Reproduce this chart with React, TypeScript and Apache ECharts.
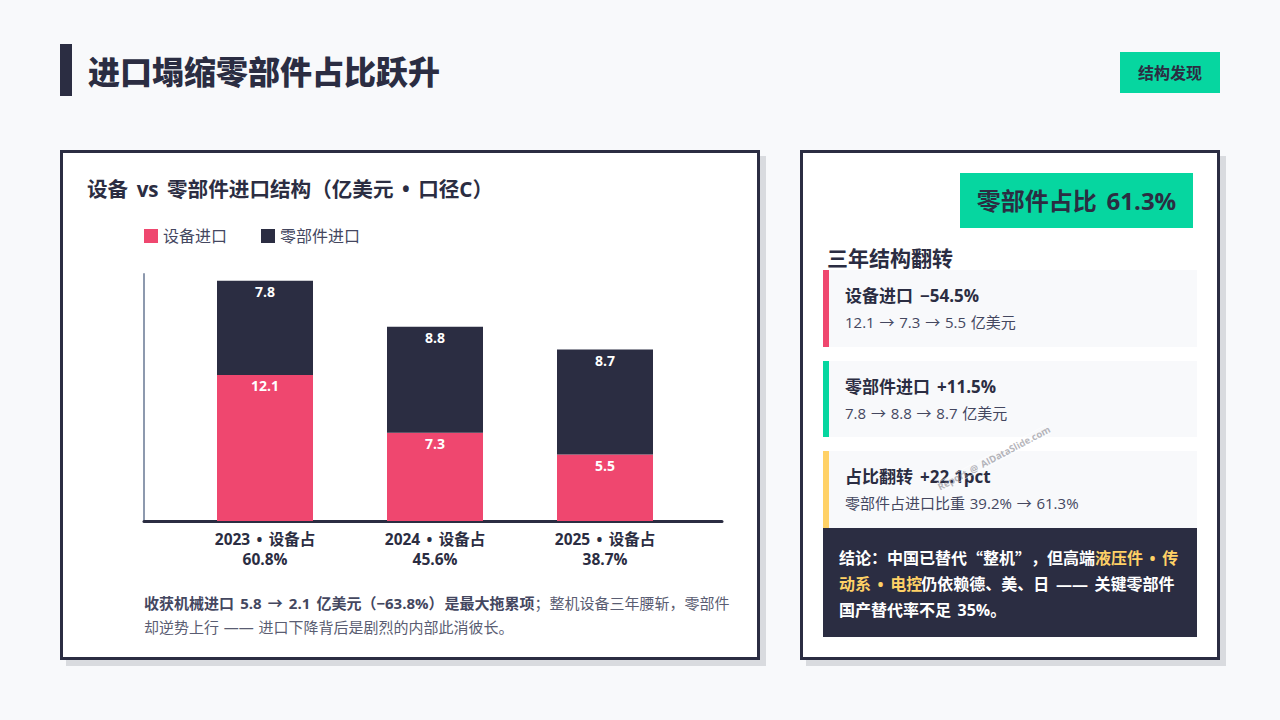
import React, { useEffect, useRef } from "react";
import * as echarts from "echarts";

const years = [2023, 2024, 2025];
const equipmentValues = [12.1, 7.3, 5.5];
const partsValues = [7.8, 8.8, 8.7];
const equipmentShare = ["60.8%", "45.6%", "38.7%"];

const NAVY = "#2B2D42";
const PINK = "#EF476F";
const GREEN = "#06D6A0";
const YELLOW = "#FFD166";
const BG = "#F8F9FB";
const LATIN = '"Open Sans", "Noto Sans CJK SC", sans-serif';
const CJK = '"Noto Sans CJK SC", sans-serif';

const txt = (x: number, y: number, text: string, fontSize: number, fontWeight: number, fill: string, align: any = "left") => ({
  type: "text",
  x,
  y,
  silent: true,
  style: { text, fontSize, fontWeight, fill, fontFamily: LATIN, align, verticalAlign: "middle" },
});

const rect = (x: number, y: number, width: number, height: number, fill: string, extra: any = {}) => ({
  type: "rect",
  silent: true,
  shape: { x, y, width, height },
  style: { fill, ...extra },
});

const richLine = (x: number, y: number, text: string, rich: any) => ({
  type: "text",
  x,
  y,
  silent: true,
  style: { text, rich, fontFamily: LATIN, verticalAlign: "middle", align: "left" },
});

const cards = [
  { top: 270, h: 77, color: PINK, title: "设备进口 −54.5%", sub: "12.1 → 7.3 → 5.5 亿美元" },
  { top: 361, h: 76, color: GREEN, title: "零部件进口 +11.5%", sub: "7.8 → 8.8 → 8.7 亿美元" },
  { top: 451, h: 77, color: YELLOW, title: "占比翻转 +22.1pct", sub: "零部件占进口比重 39.2% → 61.3%" },
];

export default function App() {
  const ref = useRef<HTMLDivElement>(null);
  useEffect(() => {
    document.body.style.margin = "0";
    document.body.style.background = BG;
    const css = document.createElement("style");
    css.textContent =
      'svg text{word-spacing:.06em} svg text[style*="700"],svg text[style*="900"],svg text[style*="bold"]{word-spacing:.15em}';
    document.head.appendChild(css);
    const chart = echarts.init(ref.current!, undefined, { renderer: "svg" });
    const token = (fill: string, fontFamily = LATIN, extra: any = {}) => ({ fontSize: 16, fontWeight: 700, fill, fontFamily, ...extra });
    const concl = {
      w: token("#FFFFFF"),
      q: token("#FFFFFF", CJK),
      y: token(YELLOW),
      yp: token(YELLOW, LATIN, { padding: [0, 4, 0, 0] }),
    };
    const noteRich = {
      b: { fontFamily: LATIN, fontSize: 15, fontWeight: 700, fill: "#44475F", padding: [0, 10, 0, 0] },
      c: { fontFamily: LATIN, fontSize: 15, fontWeight: 700, fill: "#44475F" },
      n: { fontFamily: LATIN, fontSize: 15, fontWeight: 400, fill: "#5A5D72" },
    };
    const barLabel = {
      show: true,
      position: "insideTop",
      distance: 4,
      color: "#fff",
      fontSize: 14,
      fontWeight: 700,
      fontFamily: LATIN,
      formatter: (p: any) => String(p.value[0]),
    };
    chart.setOption({
      animation: false,
      backgroundColor: BG,
      textStyle: { fontFamily: LATIN },
      grid: { left: 144, top: 274, width: 578, height: 247 },
      legend: {
        left: 139,
        top: 223,
        itemWidth: 14,
        itemHeight: 14,
        itemGap: 34,
        icon: "rect",
        textStyle: { fontSize: 16, color: "#44475F", fontFamily: LATIN },
        data: ["设备进口", "零部件进口"],
      },
      xAxis: {
        type: "value",
        min: 2023 - 121 / 170,
        max: 2025 + 117 / 170,
        splitLine: { show: false },
        axisTick: { show: false },
        axisLine: { show: true, onZero: false, lineStyle: { color: NAVY, width: 3 } },
        axisLabel: {
          customValues: years,
          margin: 8,
          color: NAVY,
          fontSize: 15.5,
          fontWeight: 700,
          lineHeight: 20,
          fontFamily: LATIN,
          formatter: (v: number) => `${v} • 设备占\n${equipmentShare[years.indexOf(v)]}`,
        },
      },
      yAxis: {
        type: "value",
        min: 0,
        max: 20.46,
        splitLine: { show: false },
        axisTick: { show: false },
        axisLabel: { show: false },
        axisLine: { show: true, lineStyle: { color: "#8D99AE", width: 2 } },
      },
      series: [
        {
          name: "设备进口",
          type: "bar",
          stack: "t",
          barWidth: 96,
          encode: { x: 1, y: 0 },
          itemStyle: { color: PINK },
          label: barLabel,
          data: years.map((y, i) => [equipmentValues[i], y]),
        },
        {
          name: "零部件进口",
          type: "bar",
          stack: "t",
          barWidth: 96,
          encode: { x: 1, y: 0 },
          itemStyle: { color: NAVY },
          label: barLabel,
          data: years.map((y, i) => [partsValues[i], y]),
        },
      ],
      graphic: {
        elements: [
          rect(60, 44, 12, 52, NAVY),
          txt(88, 71, "进口塌缩零部件占比跃升", 32, 900, NAVY),
          rect(1120, 52, 100, 41, GREEN),
          txt(1170, 73, "结构发现", 16, 700, NAVY, "center"),
          { ...rect(66, 156, 700, 510, NAVY, { opacity: 0.15 }), z: -3 },
          { ...rect(806, 156, 420, 510, NAVY, { opacity: 0.15 }), z: -3 },
          { ...rect(61.5, 151.5, 697, 507, "#fff", { stroke: NAVY, lineWidth: 3 }), z: -2 },
          { ...rect(801.5, 151.5, 417, 507, "#fff", { stroke: NAVY, lineWidth: 3 }), z: -2 },
          txt(87, 189, "设备 vs 零部件进口结构（亿美元 • 口径C）", 20.6, 700, NAVY),
          richLine(144, 603, "{b|收获机械进口 5.8 → 2.1 亿美元（−63.8%）}{c|是最大拖累项}{n|；整机设备三年腰斩，零部件}", noteRich),
          txt(144, 627, "却逆势上行 —— 进口下降背后是剧烈的内部此消彼长。", 15, 400, "#5A5D72"),
          rect(960, 173, 233, 55, GREEN),
          txt(1076.5, 200, "零部件占比 61.3%", 24, 700, NAVY, "center"),
          txt(827, 258, "三年结构翻转", 21, 700, NAVY),
          ...cards.flatMap((c) => [
            rect(823, c.top, 374, c.h, BG),
            rect(823, c.top, 6, c.h, c.color),
            txt(845, c.top + 25, c.title, 17, 700, NAVY),
            txt(845, c.top + 52, c.sub, 15, 400, "#44475F"),
          ]),
          rect(823, 528, 374, 109, NAVY),
          richLine(839, 558, "{w|结论：中国已替代}{q|“}{w|整机}{q|”}{w|，但高端}{y|液压件 • 传}", concl),
          richLine(839, 584, "{yp|动系 • 电控}{w|仍依赖德、美、日 —— 关键零部件}", concl),
          richLine(839, 610, "{w|国产替代率不足 35%。}", concl),
          {
            type: "text",
            x: 994,
            y: 458,
            rotation: (28 * Math.PI) / 180,
            silent: true,
            style: {
              text: "Report @ AIDataSlide.com",
              fontSize: 9.5,
              fontWeight: 700,
              fill: "rgba(120,120,130,0.55)",
              textBorderColor: "rgba(255,255,255,0.5)",
              textBorderWidth: 1,
              fontFamily: LATIN,
              align: "center",
              verticalAlign: "middle",
            },
          },
        ],
      },
    });
    return () => {
      chart.dispose();
      css.remove();
    };
  }, []);
  return <div ref={ref} style={{ width: 1280, height: 720 }} />;
}
